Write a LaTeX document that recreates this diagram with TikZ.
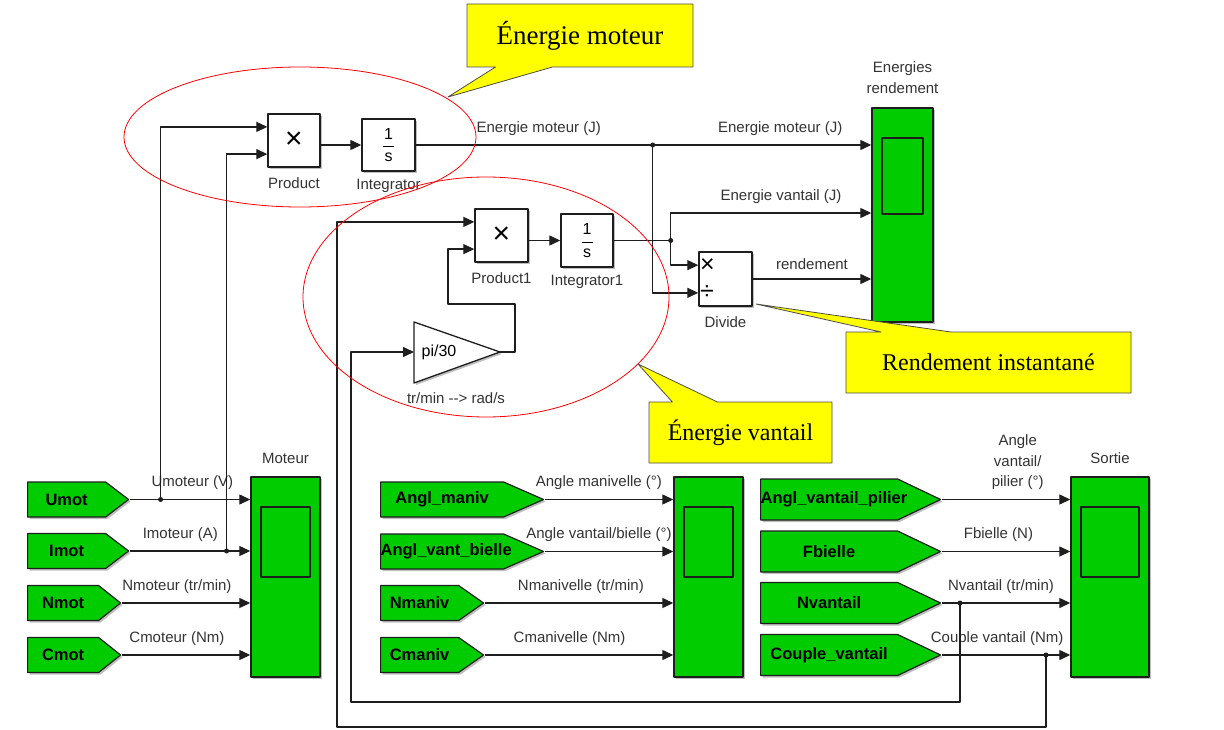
\documentclass[tikz,border=0pt]{standalone}
\usepackage{fontspec}
\setmainfont{Liberation Sans}
\newfontfamily\notefont{Liberation Serif}
\usetikzlibrary{arrows.meta,calc,shapes.arrows,shapes.callouts,shadows}
\definecolor{simgreen}{RGB}{0,204,0}
\definecolor{noteyellow}{RGB}{255,255,0}
\definecolor{wirecol}{RGB}{30,30,30}
\newcommand\intfrac{\shortstack{1\\[4pt]\rule{11pt}{1pt}\\[3pt]s}}
\tikzset{
  wireln/.style={draw=wirecol, line width=1.3pt},
  sig/.style={wireln, -{Triangle[length=11pt,width=10pt]}},
  shd/.style={drop shadow={shadow xshift=2pt, shadow yshift=-2pt, opacity=.25, fill=black}},
  blk/.style={draw=wirecol, line width=1.4pt, fill=white, inner sep=0pt, minimum width=53pt, minimum height=53pt, font=\fontsize{16}{18}\selectfont, shd},
  sym/.style={font=\fontsize{30}{30}\selectfont},
  lbl/.style={font=\fontsize{15}{17}\selectfont, text=black!80, inner sep=1pt},
  ttl/.style={lbl, align=center, font=\fontsize{15}{21}\selectfont},
  gototag/.style={signal, signal to=east, draw=wirecol, line width=1.2pt, fill=simgreen, inner sep=0pt, minimum height=35pt, anchor=west, align=center, font=\fontsize{16.5}{18}\selectfont\bfseries, shd},
  scopeblk/.style={draw=wirecol, line width=1.4pt, fill=simgreen, inner sep=0pt, minimum height=200pt, shd,
    path picture={\draw[line width=1.2pt] ([xshift=10pt,yshift=-30pt]path picture bounding box.north west) rectangle ([xshift=-10pt,yshift=-#1]path picture bounding box.north east);}},
  scopeblk/.default=100pt,
  note/.style={rectangle callout, draw=black!70, line width=.8pt, fill=noteyellow, inner sep=0pt, font=\notefont\fontsize{24}{28}\selectfont},
  ring/.style={draw=red, line width=.8pt},
  jdot/.style={fill=wirecol},
}
\begin{document}
\begin{tikzpicture}[x=1pt, y=-1pt, line join=round]
\useasboundingbox (0,0) rectangle (1224,730);

% energie moteur
\node[blk, sym, minimum width=52pt] (prod) at (294,140.5) {×};
\node[blk, minimum height=52pt] (int) at (388.5,145) {\intfrac};
\node[lbl, below=8.5pt] (prodlbl) at (prod.south) {Product};
\node[lbl, below=6pt] (intlbl) at (int.south) {Integrator};

% energie vantail
\node[blk, sym] (prod1) at (501.5,235.5) {×};
\node[blk, minimum width=52pt] (int1) at (587,240.5) {\intfrac};
\node[lbl, below=8.5pt] (prod1lbl) at (prod1.south) {Product1};
\node[lbl, below=6pt] (int1lbl) at (int1.south) {Integrator1};
\draw[blk, line width=1.3pt] (414,322) -- (500,352) -- (414,383) -- cycle;
\coordinate (gin) at (414,352);
\coordinate (gout) at (500,352);
\node[lbl, font=\fontsize{16}{18}\selectfont, text=black] (gaintxt) at (439,352) {pi/30};
\node[lbl] (gainlbl) at (456,398) {tr/min -\kern0pt-\kern0pt> rad/s};

% rendement
\node[blk, minimum height=54pt] (div) at (725.5,279) {};
\coordinate (divA) at ($(div.north west)!.25!(div.south west)$);
\coordinate (divB) at ($(div.north west)!.75!(div.south west)$);
\node[font=\fontsize{25}{25}\selectfont, anchor=west, inner sep=1.5pt] (divx) at (divA) {×};
\node[font=\fontsize{25}{25}\selectfont, anchor=west, inner sep=1.5pt] (divd) at (divB) {÷};
\node[lbl, below=8.5pt] (divlbl) at (div.south) {Divide};

% scopes
\node[scopeblk=106pt, minimum width=61pt, minimum height=214pt] (er) at (902.5,215) {};
\node[ttl, above=12pt] (erttl) at (er.north) {Energies\\rendement};
\node[scopeblk, minimum width=69pt] (mot) at (285.5,577) {};
\node[ttl, above=11pt] (motttl) at (mot.north) {Moteur};
\node[scopeblk, minimum width=69pt] (meca) at (708.5,577) {};
\node[scopeblk, minimum width=78pt] (sortie) at (1110,577) {};
\node[ttl, above=11pt] (sortiettl) at (sortie.north) {Sortie};

% goto tags
\node[gototag, text width=78pt, signal pointer angle=74.6] (umot) at (27,499.5) {Umot};
\node[gototag, text width=78pt, signal pointer angle=74.6] (imot) at (27,551) {Imot};
\node[gototag, text width=71pt, signal pointer angle=77] (nmot) at (27,603) {Nmot};
\node[gototag, text width=71pt, signal pointer angle=77] (cmot) at (27,655) {Cmot};
\node[gototag, text width=123pt, signal pointer angle=47.3] (amaniv) at (380,499.5) {Angl\_maniv};
\node[gototag, text width=123pt, signal pointer angle=47.3] (avbielle) at (380,551.5) {Angl\_vant\_bielle};
\node[gototag, text width=78pt, signal pointer angle=70] (nmaniv) at (380,603) {Nmaniv};
\node[gototag, text width=78pt, signal pointer angle=70] (cmaniv) at (380,655) {Cmaniv};
\node[gototag, text width=137pt, minimum height=41pt, signal pointer angle=51] (avpilier) at (760,499.5) {Angl\_vantail\_pilier};
\node[gototag, text width=137pt, minimum height=41pt, signal pointer angle=51] (fbielle) at (760,551.5) {Fbielle};
\node[gototag, text width=137pt, minimum height=41pt, signal pointer angle=51] (nvantail) at (760,603) {Nvantail};
\node[gototag, text width=137pt, minimum height=41pt, signal pointer angle=51] (couple) at (760,655) {Couple\_vantail};

% signaux moteur
\draw[sig] (umot.east) -- (umot.east -| mot.west) node[lbl, pos=.52, above=8pt] (lUm) {Umoteur (V)};
\draw[sig] (imot.east) -- (imot.east -| mot.west) node[lbl, pos=.42, above=8pt] (lIm) {Imoteur (A)};
\draw[sig] (nmot.east) -- (nmot.east -| mot.west) node[lbl, pos=.43, above=8pt] (lNm) {Nmoteur (tr/min)};
\draw[sig] (cmot.east) -- (cmot.east -| mot.west) node[lbl, pos=.43, above=8pt] (lCm) {Cmoteur (Nm)};
% signaux manivelle
\draw[sig] (amaniv.east) -- (amaniv.east -| meca.west) node[lbl, pos=.42, above=8pt] (lAm) {Angle manivelle (°)};
\draw[sig] (avbielle.east) -- (avbielle.east -| meca.west) node[lbl, pos=.42, above=8pt] (lAvb) {Angle vantail/bielle (°)};
\draw[sig] (nmaniv.east) -- (nmaniv.east -| meca.west) node[lbl, pos=.51, above=8pt] (lNma) {Nmanivelle (tr/min)};
\draw[sig] (cmaniv.east) -- (cmaniv.east -| meca.west) node[lbl, pos=.45, above=8pt] (lCma) {Cmanivelle (Nm)};
% signaux vantail
\draw[sig] (avpilier.east) -- (avpilier.east -| sortie.west) node[lbl, pos=.59, above=8pt, align=center, font=\fontsize{15}{20.5}\selectfont] (lAvp) {Angle\\vantail/\\pilier (°)};
\draw[sig] (fbielle.east) -- (fbielle.east -| sortie.west) node[lbl, pos=.44, above=8pt] (lFb) {Fbielle (N)};
\draw[sig] (nvantail.east) -- (nvantail.east -| sortie.west) node[lbl, pos=.46, above=8pt] (lNv) {Nvantail (tr/min)};
\draw[sig] (couple.east) -- (couple.east -| sortie.west) node[lbl, pos=.43, above=8pt] (lCv) {Couple vantail (Nm)};

% branchements
\coordinate (jU) at ($(umot.east)+(31,0)$);
\coordinate (jI) at ($(imot.east)+(97,0)$);
\coordinate (jN) at ($(nvantail.east)+(18,0)$);
\coordinate (jC) at ($(couple.east)+(104,0)$);
\coordinate (jM) at ($(int.east)+(237,0)$);
\coordinate (jV) at ($(int1.east)+(57,0)$);
\coordinate (prodA) at ($(prod.north west)!.25!(prod.south west)$);
\coordinate (prodB) at ($(prod.north west)!.75!(prod.south west)$);
\coordinate (prod1A) at ($(prod1.north west)!.25!(prod1.south west)$);
\coordinate (prod1B) at ($(prod1.north west)!.75!(prod1.south west)$);
\coordinate (erB) at ($(er.west)+(0,-2)$);
\coordinate (loopC) at (337,727);
\coordinate (loopN) at (351,702);

\draw[sig] (jU) |- (prodA);
\draw[sig] (jI) |- (prodB);
\draw[sig] (prod.east |- int.west) -- (int.west);
\draw[sig] (int.east) -- (int.east -| er.west)
  node[lbl, pos=.27, above=8pt] (lEm1) {Energie moteur (J)}
  node[lbl, pos=.8, above=8pt] (lEm2) {Energie moteur (J)};
\draw[sig] (jM) |- (divB);
\draw[sig] (jC) |- (loopC) |- (prod1A);
\draw[sig] (jN) |- (loopN) |- (gin);
\draw[sig] (gout) -- ++(15,0) |- (448,304) |- (prod1B);
\draw[sig] (prod1.east |- int1.west) -- (int1.west);
\draw[wireln] (int1.east) -- (jV);
\draw[sig] (jV) |- (erB) node[lbl, pos=.775, above=8pt] (lEv) {Energie vantail (J)};
\draw[sig] (jV) |- (divA);
\draw[sig] (div.east) -- (div.east -| er.west) node[lbl, midway, above=8pt] (lRd) {rendement};
\foreach \j in {jU,jI,jN,jC,jM,jV}
  \fill[jdot] (\j) circle (2.5pt);

% zones et commentaires
\draw[ring] (300,137) ellipse [x radius=176pt, y radius=70pt];
\draw[ring] (486,297) ellipse [x radius=183pt, y radius=120pt];
\node[note, font=\notefont\fontsize{27}{30}\selectfont, minimum width=226pt, minimum height=63pt,
  callout absolute pointer={(448,97)}, callout pointer width=57pt] (noteM) at (580,35.5) {Énergie moteur};
\node[note, minimum width=285pt, minimum height=61pt,
  callout absolute pointer={(756,304)}, callout pointer width=70pt] (noteR) at (988.5,362.5) {Rendement instantané};
\node[note, minimum width=183pt, minimum height=61pt,
  callout absolute pointer={(638,364)}, callout pointer width=45pt] (noteV) at (740.5,432.5) {Énergie vantail};
\end{tikzpicture}
\end{document}
